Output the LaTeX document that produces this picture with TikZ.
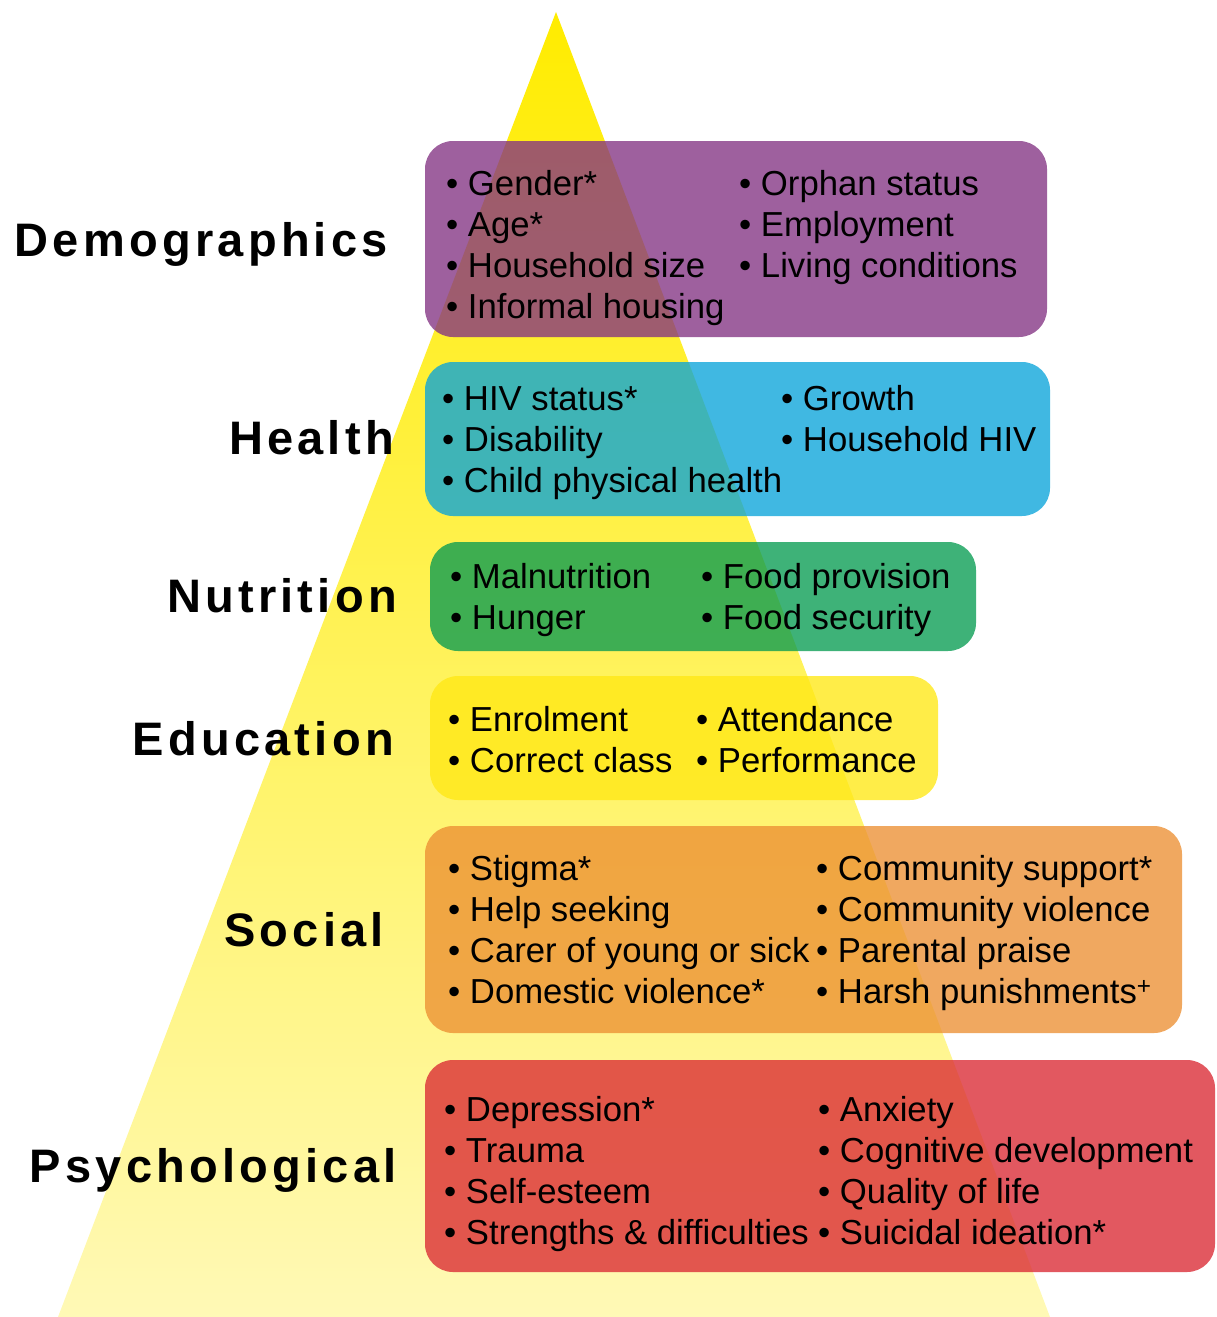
\documentclass[tikz,border=0pt]{standalone}
\usepackage{fontspec}
\setmainfont{Liberation Sans}
\newfontfamily\levelfont[LetterSpace=9]{Liberation Sans}
\usepackage{tikz}
\definecolor{demcol}{RGB}{131,51,131}
\definecolor{heacol}{RGB}{10,164,218}
\definecolor{nutcol}{RGB}{8,156,82}
\definecolor{educol}{RGB}{255,232,20}
\definecolor{soccol}{RGB}{236,144,51}
\definecolor{psycol}{RGB}{218,41,51}
\definecolor{tritop}{RGB}{255,236,0}
\definecolor{trimid}{RGB}{254,240,80}
\definecolor{tribot}{RGB}{255,249,182}
\tikzstyle{level} = [font={\levelfont\bfseries\fontsize{47}{50}\selectfont}, anchor=base east, inner sep=0pt]
\tikzstyle{band} = [rounded corners=28pt, fill opacity=0.78, inner sep=0pt]
\tikzstyle{items} = [font={\fontsize{34.7}{41}\selectfont}, align=left, anchor=north west, inner sep=0pt]
\newcommand{\bul}{\strut\textbullet\ }

\begin{document}
\begin{tikzpicture}[x=1pt,y=-1pt]
  \useasboundingbox (0,0) rectangle (1216,1317);
  \shade[top color=tritop, middle color=trimid, bottom color=tribot]
    (556,12) -- (1050,1317) -- (58,1317) -- cycle;
  % coloured bands
  \node[band,fill=demcol,minimum width=622pt,minimum height=196pt](dem) at (736,239){};
  \node[band,fill=heacol,minimum width=625pt,minimum height=154pt](hea) at (737.5,439){};
  \node[band,fill=nutcol,minimum width=546pt,minimum height=109pt](nut) at (703,596.5){};
  \node[band,fill=educol,minimum width=508pt,minimum height=124pt](edu) at (684,738){};
  \node[band,fill=soccol,minimum width=757pt,minimum height=207pt](soc) at (803.5,929.5){};
  \node[band,fill=psycol,minimum width=790pt,minimum height=212pt](psy) at (820,1166){};
  % level names
  \node[level](demlab) at (388,256){Demographics};
  \node[level](healab) at (394,454){Health};
  \node[level](nutlab) at (397,612){Nutrition};
  \node[level](edulab) at (394,755){Education};
  \node[level](soclab) at (384,946){Social};
  \node[level](psylab) at (397,1182){Psychological};
  % items
  \node[items](dem1) at (446,167){\bul Gender*\\\bul Age*\\\bul Household size\\\bul Informal housing};
  \node[items](dem2) at (739,167){\bul Orphan status\\\bul Employment\\\bul Living conditions};
  \node[items](hea1) at (442,382){\bul HIV status*\\\bul Disability\\\bul Child physical health};
  \node[items](hea2) at (781,382){\bul Growth\\\bul Household HIV};
  \node[items](nut1) at (450,560){\bul Malnutrition\\\bul Hunger};
  \node[items](nut2) at (701,560){\bul Food provision\\\bul Food security};
  \node[items](edu1) at (448,703){\bul Enrolment\\\bul Correct class};
  \node[items](edu2) at (696,703){\bul Attendance\\\bul Performance};
  \node[items](soc1) at (448,852){\bul Stigma*\\\bul Help seeking\\\bul Carer of young or sick\\\bul Domestic violence*};
  \node[items](soc2) at (816,852){\bul Community support*\\\bul Community violence\\\bul Parental praise\\\bul Harsh punishments\textsuperscript{+}};
  \node[items](psy1) at (444,1093){\bul Depression*\\\bul Trauma\\\bul Self-esteem\\\bul Strengths \& difficulties};
  \node[items](psy2) at (818,1093){\bul Anxiety\\\bul Cognitive development\\\bul Quality of life\\\bul Suicidal ideation*};
\end{tikzpicture}
\end{document}
